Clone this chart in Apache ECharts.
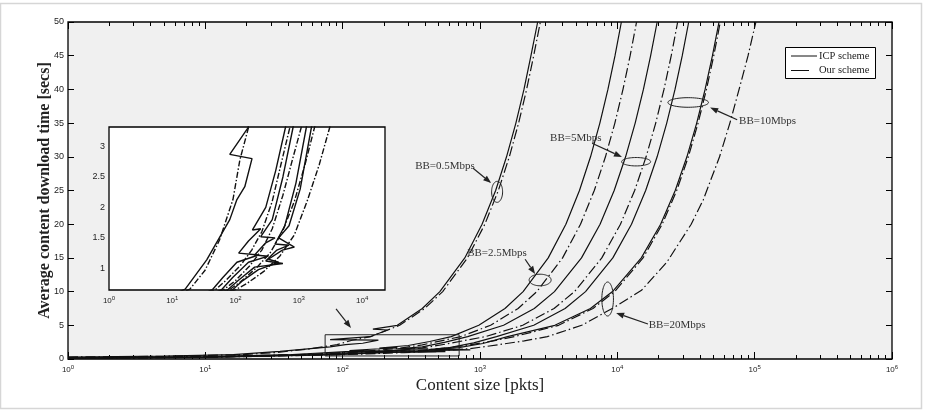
<!DOCTYPE html>
<html><head><meta charset="utf-8">
<script src="https://cdn.jsdelivr.net/npm/echarts@6/dist/echarts.min.js"></script>
<style>html,body{margin:0;padding:0;background:#fff}#c{width:931px;height:410px}</style>
</head><body><div id="c"></div>
<script>
// ---------- data (content size [pkts] -> avg download time [s]) ----------
const icp05X = [1, 5, 16, 35, 81, 105, 140, 182, 81, 158, 212, 166, 250, 380, 510, 775, 1035, 1300, 1560, 1825, 2090, 2350, 2630];
const icp05T = [0.3, 0.42, 0.66, 1.14, 1.8, 2.13, 2.34, 2.8, 2.87, 3.31, 4.3, 4.42, 5, 7.5, 10, 15, 20, 25, 30, 35, 40, 45, 50];
const our05X = [1, 5, 19, 33, 56, 91, 117, 160, 260, 396, 535, 810, 1085, 1360, 1635, 1910, 2185, 2460, 2750];
const our05T = [0.3, 0.4, 0.66, 0.97, 1.47, 2.13, 2.78, 3.31, 5, 7.5, 10, 15, 20, 25, 30, 35, 40, 45, 50];

const icp25X = [1, 10, 43, 63, 105, 230, 112, 160, 250, 185, 300, 430, 617, 980, 1520, 2060, 3140, 4220, 5300, 6380, 7460, 8540, 9620, 10700];
const icp25T = [0.15, 0.35, 0.65, 0.85, 1.1, 1.22, 1.25, 1.45, 1.65, 1.63, 2.0, 2.6, 3.32, 5, 7.5, 10, 15, 20, 25, 30, 35, 40, 45, 50];
const our25X = [1, 10, 48, 70, 120, 180, 260, 380, 520, 724, 1194, 1894, 2594, 3994, 5394, 6794, 8194, 9594, 10994, 12394, 13800];
const our25T = [0.15, 0.35, 0.65, 0.8, 1.05, 1.3, 1.6, 2.1, 2.7, 3.32, 5, 7.5, 10, 15, 20, 25, 30, 35, 40, 45, 50];

const icp5X = [1, 10, 60, 90, 160, 330, 200, 300, 420, 250, 380, 560, 813, 1485, 2485, 3485, 5485, 7485, 9485, 11485, 13485, 15485, 17485, 19500];
const icp5T = [0.12, 0.3, 0.65, 0.85, 1.1, 1.2, 1.22, 1.42, 1.5, 1.52, 1.8, 2.5, 3.32, 5, 7.5, 10, 15, 20, 25, 30, 35, 40, 45, 50];
const our5X = [1, 10, 65, 100, 170, 260, 380, 560, 800, 1096, 2047, 3462, 4877, 7707, 10540, 13370, 16200, 19030, 21860, 24690, 27500];
const our5T = [0.12, 0.3, 0.65, 0.8, 1.05, 1.3, 1.65, 2.2, 2.8, 3.32, 5, 7.5, 10, 15, 20, 25, 30, 35, 40, 45, 50];

const icp10X = [1, 10, 75, 110, 200, 560, 300, 450, 700, 420, 600, 900, 1318, 2462, 4165, 5867, 9272, 12680, 16080, 19490, 22890, 26300, 29700, 33100];
const icp10T = [0.1, 0.28, 0.65, 0.8, 1.02, 1.08, 1.12, 1.3, 1.38, 1.4, 1.7, 2.4, 3.32, 5, 7.5, 10, 15, 20, 25, 30, 35, 40, 45, 50];
const our10X = [1, 10, 80, 120, 210, 350, 550, 850, 1250, 1778, 3737, 6652, 9567, 15400, 21230, 27060, 32890, 38720, 44550, 50380, 56200];
const our10T = [0.1, 0.28, 0.65, 0.78, 1.0, 1.25, 1.6, 2.1, 2.7, 3.32, 5, 7.5, 10, 15, 20, 25, 30, 35, 40, 45, 50];

const icp20X = [1, 10, 90, 130, 230, 480, 330, 550, 850, 480, 700, 1050, 1585, 3507, 6367, 9227, 14950, 20670, 26390, 32110, 37830, 43550, 49270, 55000];
const icp20T = [0.08, 0.25, 0.65, 0.8, 0.98, 1.1, 1.15, 1.3, 1.35, 1.5, 1.7, 2.3, 3.32, 5, 7.5, 10, 15, 20, 25, 30, 35, 40, 45, 50];
const our20X = [1, 10, 100, 150, 280, 500, 850, 1350, 2100, 3090, 5500, 9550, 15000, 23000, 34500, 42200, 55500, 66000, 77000, 89500, 102000];
const our20T = [0.08, 0.25, 0.65, 0.75, 0.95, 1.2, 1.55, 2.1, 2.7, 3.32, 5, 7.7, 10.2, 14.4, 20, 23.6, 30, 35, 40, 45, 50];

const mainYTicks = [0, 5, 10, 15, 20, 25, 30, 35, 40, 45, 50];
const insetYTicks = [1, 1.5, 2, 2.5, 3];
const mainXTicks = [1, 10, 100, 1000, 10000, 100000, 1000000];
const insetXTicks = [1, 10, 100, 1000, 10000];

// annotations in data coordinates (main axes)
const annEllipses = [[1332, 24.8], [2740, 11.72], [13700, 29.27], [32800, 38.06], [8500, 8.9]];
const annTexts = [['BB=0.5Mbps', 337, 28.6], ['BB=2.5Mbps', 806, 15.7], ['BB=5Mbps', 3240, 32.8], ['BB=10Mbps', 77000, 35.3], ['BB=20Mbps', 16900, 5.04]];
const annArrows = [[891, 28.3, 1206, 26.1], [2130, 14.8, 2520, 12.6], [6550, 32.0, 10800, 29.97], [74600, 35.5, 47400, 37.3], [16700, 5.19, 9800, 6.82], [89.5, 7.42, 115, 4.6]];
const zoomRect = [74.5, 3.6, 705, 0.45];

// ---------- chart ----------
const ellipseSizes = [[5.5, 10.5], [11, 5.8], [14.5, 4.2], [20.3, 4.8], [5.8, 17]];
function minorVals(maxExp, maxVal) {
  const v = [];
  for (let e = 0; e < maxExp; e++) for (let m = 2; m <= 9; m++) { const t = m * Math.pow(10, e); if (t <= maxVal) v.push(t); }
  return v;
}
const mainMinor = minorVals(6, 1e6);
const insetMinor = minorVals(5, 23000);
const supLabel = v => '{b|10}{s|' + Math.round(Math.log10(v)) + '}';
const labRich = { b: { fontSize: 8, fontFamily: 'Liberation Sans', color: '#222' }, s: { fontSize: 6, fontFamily: 'Liberation Sans', color: '#222', padding: [0, 0, 6, 0] } };

function logX(gi, max, pos, ticks, len, labels) {
  return {
    type: 'log', logBase: 10, gridIndex: gi, min: 1, max: max, position: pos,
    axisLine: { show: false }, splitLine: { show: false }, minorTick: { show: false },
    axisTick: { show: true, inside: true, length: len, customValues: ticks, lineStyle: { color: '#000', width: 1 } },
    axisLabel: labels ? { show: true, customValues: labels, formatter: supLabel, rich: labRich, margin: 5 } : { show: false }
  };
}
function valY(gi, min, max, pos, ticks, labels) {
  return {
    type: 'value', gridIndex: gi, min: min, max: max, position: pos,
    axisLine: { show: false }, splitLine: { show: false },
    axisTick: { show: true, inside: true, length: 6, customValues: ticks, lineStyle: { color: '#000', width: 1 } },
    axisLabel: labels ? { show: true, customValues: ticks, fontSize: 9, fontFamily: 'Liberation Sans', color: '#222', margin: 4 } : { show: false }
  };
}

const curves = [
  [icp05X, icp05T, false], [our05X, our05T, true],
  [icp25X, icp25T, false], [our25X, our25T, true],
  [icp5X, icp5T, false], [our5X, our5T, true],
  [icp10X, icp10T, false], [our10X, our10T, true],
  [icp20X, icp20T, false], [our20X, our20T, true]
];
const series = [];
curves.forEach(([xs, ts, dash]) => {
  const d = xs.map((x, i) => [x, ts[i]]);
  series.push({ type: 'line', xAxisIndex: 0, yAxisIndex: 0, data: d, symbol: 'none', silent: true, clip: true, z: 3,
    lineStyle: { color: '#111', width: 1.2, type: dash ? [10, 3, 1.5, 3] : 'solid' } });
  series.push({ type: 'line', xAxisIndex: 4, yAxisIndex: 2, data: d, symbol: 'none', silent: true, clip: true, z: 5,
    lineStyle: { color: '#111', width: 1.4, type: dash ? [6, 2, 1.5, 2] : 'solid' } });
});

const chart = echarts.init(document.getElementById('c'), null, { renderer: 'canvas' });
chart.setOption({
  animation: false,
  backgroundColor: '#fff',
  grid: [
    { left: 68, top: 22, width: 824, height: 337, show: true, backgroundColor: '#f0f0f0', borderColor: '#000', borderWidth: 1.3, z: 0 },
    { left: 109, top: 127, width: 276, height: 163, show: true, backgroundColor: '#fff', borderColor: '#000', borderWidth: 1.3, z: 1 }
  ],
  xAxis: [
    Object.assign(logX(0, 1e6, 'bottom', mainXTicks, 7, mainXTicks), {
      name: 'Content size [pkts]', nameLocation: 'middle', nameGap: 18, nameMoveOverlap: false,
      nameTextStyle: { fontFamily: 'Liberation Serif', fontSize: 17, color: '#222' } }),
    logX(0, 1e6, 'bottom', mainMinor, 4, null),
    logX(0, 1e6, 'top', mainXTicks, 7, null),
    logX(0, 1e6, 'top', mainMinor, 4, null),
    logX(1, 23000, 'bottom', insetXTicks, 6, insetXTicks),
    logX(1, 23000, 'bottom', insetMinor, 3, null),
    logX(1, 23000, 'top', insetXTicks, 6, null),
    logX(1, 23000, 'top', insetMinor, 3, null)
  ],
  yAxis: [
    Object.assign(valY(0, 0, 50, 'left', mainYTicks, true), {
      name: 'Average content download time [secs]', nameLocation: 'middle', nameGap: 15, nameRotate: 90, nameMoveOverlap: false,
      nameTextStyle: { fontFamily: 'Liberation Serif', fontSize: 16, fontWeight: 'bold', color: '#222' } }),
    valY(0, 0, 50, 'right', mainYTicks, false),
    valY(1, 0.645, 3.32, 'left', insetYTicks, true),
    valY(1, 0.645, 3.32, 'right', insetYTicks, false)
  ],
  series: series
});

// ---------- annotations ----------
const toPx = (x, y) => chart.convertToPixel({ xAxisIndex: 0, yAxisIndex: 0 }, [x, y]);
const g = [];
const ink = '#222';
annEllipses.forEach(([x, y], i) => {
  const [cx, cy] = toPx(x, y); const [rx, ry] = ellipseSizes[i];
  const pts = [];
  for (let k = 0; k < 60; k++) { const a = k / 60 * Math.PI * 2; pts.push([cx + rx * Math.cos(a), cy + ry * Math.sin(a)]); }
  g.push({ type: 'polygon', shape: { points: pts }, style: { fill: 'none', stroke: ink, lineWidth: 1 }, z: 20, silent: true });
});
annTexts.forEach(([t, x, y]) => {
  const [px, py] = toPx(x, y);
  g.push({ type: 'text', x: px, y: py, style: { text: t, fontFamily: 'Liberation Serif', fontSize: 11, fill: '#333', align: 'left', verticalAlign: 'middle' }, z: 20, silent: true });
});
annArrows.forEach(([x0, y0, x1, y1]) => {
  const p0 = toPx(x0, y0), p1 = toPx(x1, y1);
  const dx = p1[0] - p0[0], dy = p1[1] - p0[1], L = Math.hypot(dx, dy), ux = dx / L, uy = dy / L;
  const hl = 8, hw = 3;
  const b = [p1[0] - ux * hl, p1[1] - uy * hl];
  g.push({ type: 'line', shape: { x1: p0[0], y1: p0[1], x2: b[0], y2: b[1] }, style: { stroke: ink, lineWidth: 1.2 }, z: 20, silent: true });
  g.push({ type: 'polygon', shape: { points: [p1, [b[0] - uy * hw, b[1] + ux * hw], [b[0] + uy * hw, b[1] - ux * hw]] }, style: { fill: ink }, z: 20, silent: true });
});
(function () {
  const a = toPx(zoomRect[0], zoomRect[1]), b = toPx(zoomRect[2], zoomRect[3]);
  g.push({ type: 'rect', shape: { x: a[0], y: a[1], width: b[0] - a[0], height: b[1] - a[1] }, style: { fill: 'none', stroke: ink, lineWidth: 1 }, z: 20, silent: true });
})();
// legend
g.push({ type: 'rect', shape: { x: 785.5, y: 47.5, width: 90, height: 31 }, style: { fill: '#fff', stroke: '#000', lineWidth: 1 }, z: 20, silent: true });
g.push({ type: 'line', shape: { x1: 791, y1: 56, x2: 817, y2: 56 }, style: { stroke: '#111', lineWidth: 1 }, z: 21, silent: true });
g.push({ type: 'line', shape: { x1: 791, y1: 70.5, x2: 809, y2: 70.5 }, style: { stroke: '#111', lineWidth: 1 }, z: 21, silent: true });
g.push({ type: 'text', x: 819, y: 56, style: { text: 'ICP scheme', fontFamily: 'Liberation Serif', fontSize: 10.5, fill: '#222', verticalAlign: 'middle' }, z: 21, silent: true });
g.push({ type: 'text', x: 819, y: 70.5, style: { text: 'Our scheme', fontFamily: 'Liberation Serif', fontSize: 10.5, fill: '#222', verticalAlign: 'middle' }, z: 21, silent: true });
// outer frame
g.push({ type: 'rect', shape: { x: 0.5, y: 3.5, width: 921, height: 405 }, style: { fill: 'none', stroke: '#d6d6d6', lineWidth: 1.5 }, z: 0, silent: true });
chart.setOption({ graphic: g });
</script>
</body></html>
